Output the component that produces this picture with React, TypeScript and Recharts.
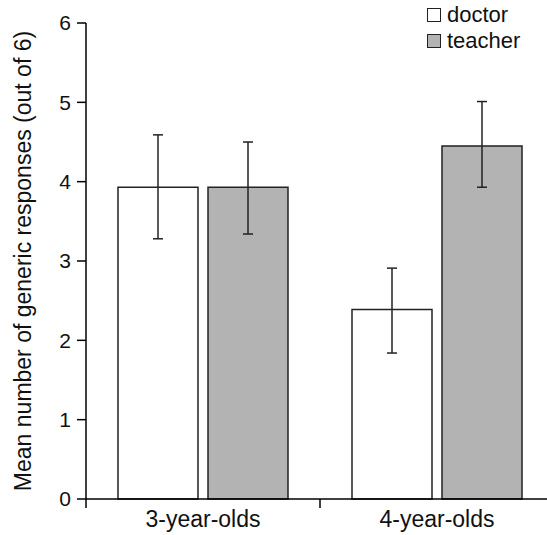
import { BarChart, Bar, XAxis, YAxis, ErrorBar, Legend } from "recharts";

const groups = ["3-year-olds", "4-year-olds"];
const doctorMeans = [3.93, 2.39];
const teacherMeans = [3.93, 4.45];
// error bars as [below, above] the mean
const doctorErr = [
  [0.65, 0.66],
  [0.55, 0.52],
];
const teacherErr = [
  [0.59, 0.57],
  [0.52, 0.56],
];
const yTicks = [0, 1, 2, 3, 4, 5, 6];

const data = groups.map((g, i) => ({
  group: g,
  doctor: doctorMeans[i],
  teacher: teacherMeans[i],
  doctorErr: doctorErr[i],
  teacherErr: teacherErr[i],
}));

const FONT = "Liberation Sans, Arial, sans-serif";

const GroupTick = (props: any) => {
  const { x, y, payload } = props;
  const half = payload && payload.offset ? payload.offset : 117;
  return (
    <g>
      <line x1={x - half} y1={y - 8} x2={x - half} y2={y + 1} stroke="#000" strokeWidth={1.5} />
      <text x={x} y={y + 20} textAnchor="middle" fontSize={23} fontFamily={FONT} fill="#111">
        {payload.value}
      </text>
    </g>
  );
};

const LegendBox = () => (
  <div style={{ fontFamily: FONT, fontSize: 22, color: "#111", lineHeight: "26px" }}>
    {[
      { name: "doctor", fill: "#fff" },
      { name: "teacher", fill: "#b3b3b3" },
    ].map((s) => (
      <div key={s.name} style={{ display: "flex", alignItems: "center" }}>
        <span
          style={{
            display: "inline-block",
            width: 12,
            height: 12,
            background: s.fill,
            border: "1.5px solid #222",
            marginRight: 6,
          }}
        />
        {s.name}
      </div>
    ))}
  </div>
);

const App = () => {
  return (
    <div style={{ position: "absolute", left: 0, top: 0, width: 547, height: 535, overflow: "hidden", background: "#fff" }}>
      <BarChart
        width={560}
        height={535}
        data={data}
        margin={{ top: 23, right: 6, bottom: 6, left: 0 }}
        barCategoryGap={32}
        barGap={10}
      >
        <XAxis
          dataKey="group"
          tickLine={false}
          tick={<GroupTick />}
          axisLine={{ stroke: "#000", strokeWidth: 1.5 }}
          height={30}
          interval={0}
        />
        <YAxis
          domain={[0, 6]}
          ticks={yTicks}
          width={86}
          tickSize={9}
          tickMargin={6}
          axisLine={{ stroke: "#000", strokeWidth: 1.5 }}
          tickLine={{ stroke: "#000", strokeWidth: 1.5 }}
          tick={{ fontSize: 21, fontFamily: FONT, fill: "#111" }}
          label={{
            value: "Mean number of generic responses (out of 6)",
            angle: -90,
            position: "insideLeft",
            dx: 18,
            dy: 0,
            style: { fontSize: 23, fontFamily: FONT, fill: "#111", textAnchor: "middle" },
          }}
        />
        <Legend
          verticalAlign="middle"
          align="center"
          layout="horizontal"
          content={<LegendBox />}
          wrapperStyle={{ top: 2, left: 427, width: 120 }}
        />
        <Bar dataKey="doctor" fill="#fff" stroke="#222" strokeWidth={1.5} isAnimationActive={false}>
          <ErrorBar dataKey="doctorErr" width={5} stroke="#222" strokeWidth={1.5} />
        </Bar>
        <Bar dataKey="teacher" fill="#b3b3b3" stroke="#222" strokeWidth={1.5} isAnimationActive={false}>
          <ErrorBar dataKey="teacherErr" width={5} stroke="#222" strokeWidth={1.5} />
        </Bar>
      </BarChart>
    </div>
  );
};

export default App;
